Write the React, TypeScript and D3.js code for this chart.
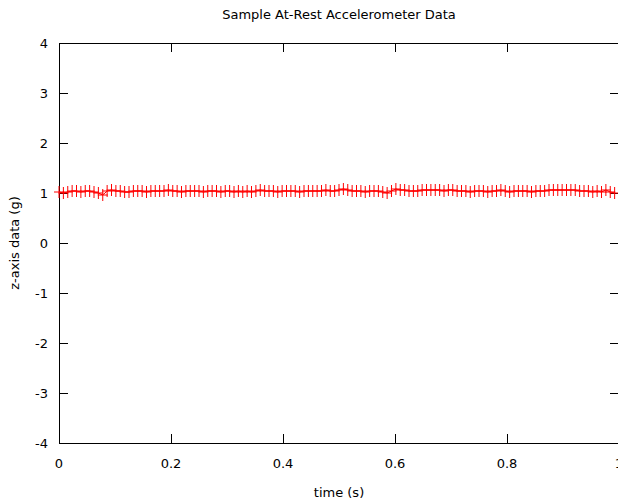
import React, { useEffect, useRef } from "react";
import * as d3 from "d3";

const title = "Sample At-Rest Accelerometer Data";
const xLabel = "time (s)";
const yLabel = "z-axis data (g)";
const xTicks = [0, 0.2, 0.4, 0.6, 0.8, 1];
const yTicks = [-4, -3, -2, -1, 0, 1, 2, 3, 4];
const sampleRate = 128; // Hz

// z-axis readings (g), one per sample
const zValues = [
  1.02, 1.0, 1.02, 1.04, 1.04, 1.02, 1.04, 1.04, 1.02, 1.0, 0.96, 1.04, 1.06, 1.04, 1.04, 1.02,
  1.02, 1.04, 1.04, 1.04, 1.02, 1.04, 1.04, 1.04, 1.04, 1.06, 1.04, 1.04, 1.02, 1.04, 1.04, 1.04,
  1.04, 1.02, 1.04, 1.04, 1.04, 1.02, 1.04, 1.04, 1.02, 1.04, 1.02, 1.04, 1.02, 1.04, 1.06, 1.04,
  1.04, 1.04, 1.02, 1.04, 1.04, 1.04, 1.04, 1.02, 1.04, 1.04, 1.04, 1.04, 1.04, 1.06, 1.04, 1.04,
  1.06, 1.08, 1.06, 1.04, 1.04, 1.04, 1.02, 1.04, 1.04, 1.04, 1.02, 1.0, 1.04, 1.08, 1.06, 1.06,
  1.04, 1.04, 1.04, 1.06, 1.06, 1.06, 1.06, 1.06, 1.04, 1.06, 1.06, 1.04, 1.04, 1.04, 1.02, 1.04,
  1.04, 1.04, 1.02, 1.04, 1.04, 1.06, 1.04, 1.02, 1.04, 1.04, 1.04, 1.04, 1.02, 1.04, 1.04, 1.04,
  1.06, 1.06, 1.06, 1.06, 1.06, 1.06, 1.06, 1.04, 1.04, 1.04, 1.02, 1.04, 1.02, 1.06, 1.02, 1.0,
];

const W = 618, H = 501;
const margin = { top: 43, right: -1, bottom: 58, left: 59 };

export default function App() {
  const ref = useRef<SVGSVGElement>(null);

  useEffect(() => {
    const svg = d3.select(ref.current);
    svg.selectAll("*").remove();
    const font = "DejaVu Sans, sans-serif";

    const x = d3.scaleLinear().domain([0, 1]).range([margin.left, W - margin.right]);
    const y = d3.scaleLinear().domain([-4, 4]).range([H - margin.bottom, margin.top]);
    const data = zValues.map((v, i) => ({ t: i / sampleRate, v }));

    // ticks (gnuplot style, inward on all sides)
    const tl = 9;
    const g = svg.append("g").attr("stroke", "#000").attr("stroke-width", 1);
    xTicks.forEach(t => {
      const px = Math.round(x(t)) + 0.5;
      g.append("line").attr("x1", px).attr("x2", px).attr("y1", y(-4)).attr("y2", y(-4) - tl);
      g.append("line").attr("x1", px).attr("x2", px).attr("y1", y(4)).attr("y2", y(4) + tl);
    });
    yTicks.forEach(t => {
      const py = Math.round(y(t)) + 0.5;
      g.append("line").attr("x1", x(0)).attr("x2", x(0) + tl).attr("y1", py).attr("y2", py);
      g.append("line").attr("x1", x(1)).attr("x2", x(1) - tl).attr("y1", py).attr("y2", py);
    });

    // border
    svg.append("rect")
      .attr("x", x(0) + 0.5).attr("y", y(4) + 0.5)
      .attr("width", x(1) - x(0)).attr("height", y(-4) - y(4))
      .attr("fill", "none").attr("stroke", "#000").attr("stroke-width", 1);

    // tick labels
    svg.append("g").selectAll("text").data(yTicks).join("text")
      .attr("x", x(0) - 11).attr("y", d => y(d)).attr("dy", "0.35em")
      .attr("text-anchor", "end").attr("font-family", font).attr("font-size", 13)
      .text(d => d);
    svg.append("g").selectAll("text").data(xTicks).join("text")
      .attr("x", d => x(d)).attr("y", y(-4) + 20).attr("dy", "0.35em")
      .attr("text-anchor", "middle").attr("font-family", font).attr("font-size", 13)
      .text(d => d);

    svg.append("text").attr("x", 339).attr("y", 14).attr("dy", "0.35em")
      .attr("text-anchor", "middle").attr("font-family", font).attr("font-size", 13).text(title);
    svg.append("text").attr("x", 339).attr("y", 492).attr("dy", "0.35em")
      .attr("text-anchor", "middle").attr("font-family", font).attr("font-size", 13).text(xLabel);
    svg.append("text").attr("transform", `translate(14,${y(0)}) rotate(-90)`).attr("dy", "0.35em")
      .attr("text-anchor", "middle").attr("font-family", font).attr("font-size", 13).text(yLabel);

    // data line + point markers
    const line = d3.line<{ t: number; v: number }>().x(d => x(d.t)).y(d => y(d.v));
    svg.append("path").datum(data).attr("d", line)
      .attr("fill", "none").attr("stroke", "#ff0000").attr("stroke-width", 1);
    const s = 5;
    svg.append("g").attr("stroke", "#ff0000").attr("stroke-width", 1)
      .selectAll("path").data(data).join("path")
      .attr("d", d => {
        const px = x(d.t), py = y(d.v);
        return `M${px - s},${py}H${px + s}M${px},${py - 6}V${py + 6}`;
      });
  }, []);

  return (
    <svg ref={ref} width={W} height={H}
      style={{ position: "absolute", left: 0, top: 0, background: "#fff" }} />
  );
}
